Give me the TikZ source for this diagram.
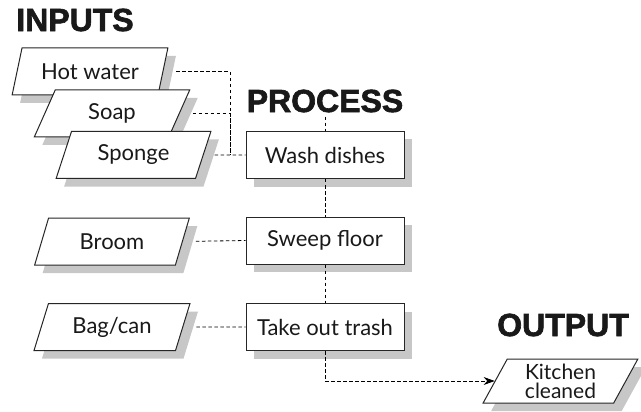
\documentclass[tikz,border=0pt]{standalone}
\usepackage{fontspec}
\setmainfont{Lato}
\newfontfamily\headfont[FakeBold=2]{Liberation Sans}
\usetikzlibrary{shapes.geometric,shadows,arrows.meta}

\begin{document}
\begin{tikzpicture}[x=1pt,y=-1pt,
  title/.style={font=\headfont\bfseries\fontsize{32}{32}\selectfont,inner sep=4pt,text=black!90},
  shade/.style={drop shadow={shadow xshift=8pt,shadow yshift=-8pt,fill=black!22,opacity=1}},
  item/.style={trapezium,trapezium left angle=66,trapezium right angle=114,trapezium stretches=true,
    draw=black!85,line width=1pt,fill=white,minimum width=156pt,minimum height=47pt,inner sep=0pt,
    font=\fontsize{22}{24}\selectfont,text=black!90,shade},
  task/.style={rectangle,draw=black!85,line width=1pt,fill=white,minimum width=158pt,minimum height=47pt,
    inner sep=0pt,font=\fontsize{22}{24}\selectfont,text=black!90,shade},
  link/.style={draw=black,line width=0.8pt,dash pattern=on 3.5pt off 2.5pt}]

\useasboundingbox (0,0) rectangle (641,412);

\node[title] at (75,20) (inputs) {INPUTS};
\node[title] at (325,101) (process) {PROCESS};
\node[title] at (563,325) (output) {OUTPUT};

% inputs
\node[item] at (90,71.5) (hot) {Hot water};
\node[item] at (112,113.5) (soap) {Soap};
\node[item] at (133.5,155) (sponge) {Sponge};
\node[item] at (112,241.5) (broom) {Broom};
\node[item] at (112,327) (bag) {Bag/can};

% process
\node[task] at (325,155) (wash) {Wash dishes};
\node[task] at (325,240.5) (sweep) {Sweep floor};
\node[task] at (325,327) (trash) {Take out trash};

% output
\node[item,minimum width=155pt,minimum height=44pt,trapezium left angle=65,trapezium right angle=115,
  align=center,font=\fontsize{21}{19}\selectfont] at (560.5,381) (kitchen) {Kitchen\\cleaned};

\coordinate (join) at (230,155);
\path[link,shorten <=13pt] (hot.east) -| (join);
\path[link,shorten <=13pt] (soap.east) -| (join);
\path[link,shorten <=11pt] (sponge.east) -- (wash.west);
\path[link,shorten <=13pt] (broom.east) -- (sweep.west);
\path[link,shorten <=13pt] (bag.east) -- (trash.west);

\path[link] (process.south) -- (wash.north);
\foreach \a/\b in {wash/sweep, sweep/trash}{
\path[link] (\a.south) -- (\b.north);
}
\path[link,-{Stealth[length=11pt,width=8pt]}] (trash.south) |- (kitchen.west);

\end{tikzpicture}
\end{document}
